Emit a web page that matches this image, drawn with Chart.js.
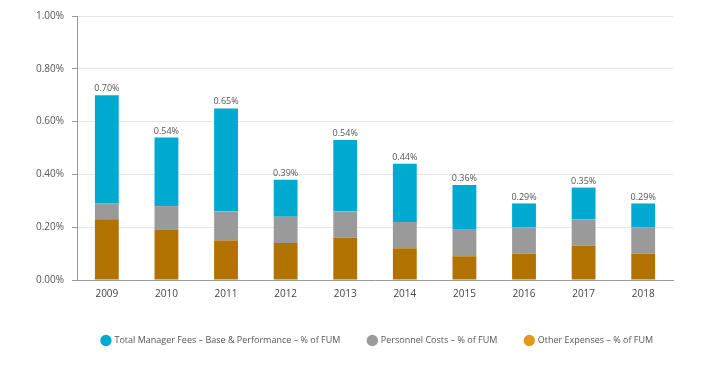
<!DOCTYPE html>
<html>
<head>
<meta charset="utf-8">
<script src="https://cdn.jsdelivr.net/npm/chart.js@4/dist/chart.umd.min.js"></script>
<style>
    html, body { margin: 0; padding: 0; background: #fff; }
    #wrap { width: 704px; height: 372px; }
</style>
</head>
<body>
<div id="wrap"><canvas id="chart"></canvas></div>
<script>
// values, % of FUM
const years = ['2009', '2010', '2011', '2012', '2013', '2014', '2015', '2016', '2017', '2018'];
const otherExpenses = [0.23, 0.19, 0.15, 0.14, 0.16, 0.12, 0.09, 0.10, 0.13, 0.10];
const personnelCosts = [0.06, 0.09, 0.11, 0.10, 0.10, 0.10, 0.10, 0.10, 0.10, 0.10];
const managerFees = [0.41, 0.26, 0.39, 0.14, 0.27, 0.22, 0.17, 0.09, 0.12, 0.09];
const totalLabels = ['0.70%', '0.54%', '0.65%', '0.39%', '0.54%', '0.44%', '0.36%', '0.29%', '0.35%', '0.29%'];

const fontFamily = "'Open Sans', 'Liberation Sans', sans-serif";

// total above each stack, placed on top of the last bar
const totalsPlugin = {
    id: 'totals',
    afterDatasetsDraw(chart) {
        const ctx = chart.ctx;
        const meta = chart.getDatasetMeta(2);
        ctx.save();
        ctx.font = "9px " + fontFamily;
        ctx.fillStyle = '#555';
        ctx.textAlign = 'center';
        ctx.textBaseline = 'bottom';
        meta.data.forEach((bar, i) => {
            ctx.fillText(totalLabels[i], bar.x, bar.y - 2);
        });
        ctx.restore();
    }
};

// the legend in the original sits a bit right of centre
const legendShift = {
    id: 'legendShift',
    afterLayout(chart) {
        if (chart.legend) {
            chart.legend.left += 27;
            chart.legend.right += 27;
        }
    }
};

const legendColors = ['#00a9cf', '#9a9a9a', '#e39a1a'];

new Chart(document.getElementById('chart'), {
    type: 'bar',
    data: {
        labels: years,
        datasets: [
            {
                label: 'Other Expenses \u2013 % of FUM',
                data: otherExpenses,
                backgroundColor: '#b27200'
            },
            {
                label: 'Personnel Costs \u2013 % of FUM',
                data: personnelCosts,
                backgroundColor: '#9a9a9a'
            },
            {
                label: 'Total Manager Fees \u2013 Base & Performance \u2013 % of FUM',
                data: managerFees,
                backgroundColor: '#00a9cf'
            }
        ]
    },
    options: {
        responsive: true,
        maintainAspectRatio: false,
        animation: false,
        datasets: {
            bar: {
                barPercentage: 0.4,
                categoryPercentage: 1.0
            }
        },
        layout: {
            padding: { left: 28, right: 31, top: 16, bottom: 17 }
        },
        scales: {
            x: {
                stacked: true,
                grid: {
                    display: false,
                    drawTicks: false
                },
                border: { color: '#999' },
                ticks: {
                    color: '#444',
                    padding: 8,
                    font: { family: fontFamily, size: 10 }
                }
            },
            y: {
                stacked: true,
                min: 0,
                max: 1,
                ticks: {
                    stepSize: 0.2,
                    color: '#555',
                    padding: 8,
                    font: { family: fontFamily, size: 10 },
                    callback: (v) => v.toFixed(2) + '%'
                },
                grid: {
                    color: '#e6e6e6',
                    tickColor: '#999',
                    tickLength: 5
                },
                border: { color: '#999' }
            }
        },
        plugins: {
            tooltip: { enabled: false },
            legend: {
                position: 'bottom',
                reverse: true,
                labels: {
                    usePointStyle: true,
                    pointStyle: 'circle',
                    boxWidth: 8,
                    boxHeight: 8,
                    padding: 28,
                    color: '#555',
                    font: { family: fontFamily, size: 9 },
                    generateLabels(chart) {
                        const items = Chart.defaults.plugins.legend.labels.generateLabels(chart);
                        items.forEach((item) => {
                            const c = legendColors[2 - item.datasetIndex];
                            item.fillStyle = c;
                            item.strokeStyle = c;
                        });
                        return items;
                    }
                }
            }
        }
    },
    plugins: [totalsPlugin, legendShift]
});
</script>
</body>
</html>
